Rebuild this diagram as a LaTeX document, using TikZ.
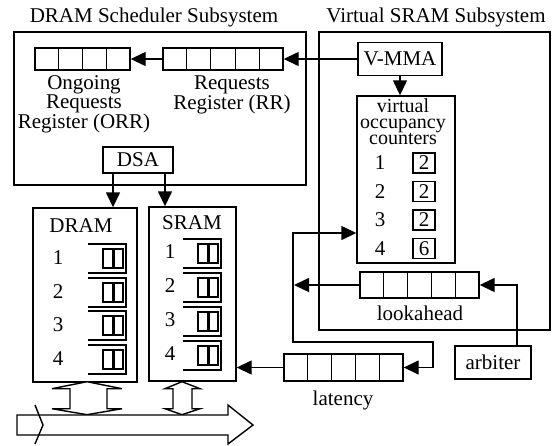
\documentclass[tikz,border=0pt]{standalone}
\usepackage{fontspec}
\setmainfont{Liberation Serif}
\usetikzlibrary{arrows.meta, positioning, calc}
\tikzset{every node/.style={font=\fontsize{21}{18}\selectfont}}
\tikzstyle{arrow} = [line width=1.4pt, -{Triangle[length=15pt,width=14pt]}]
\tikzstyle{twoway} = [line width=1.4pt, {Triangle[length=15pt,width=14pt]}-{Triangle[length=15pt,width=14pt]}]
\tikzstyle{box} = [rectangle, draw, line width=1.4pt, inner sep=0pt]
\tikzstyle{frame} = [rectangle, draw, line width=1.2pt]
\tikzstyle{reg} = [rectangle, draw, line width=1.4pt, minimum width=119pt, minimum height=26pt, inner sep=0pt]
\tikzstyle{lbl} = [inner sep=0pt, align=center]
\tikzstyle{hollow} = [line width=1.4pt, fill=white, line join=miter]
\tikzset{bank/.pic={
    \draw[line width=1.4pt] (0,0) -- (38,0) -- (38,29) -- (0,29);
    \draw[line width=1.2pt] (15,5) rectangle (25,24) (26,5) rectangle (35,24);
}}

\begin{document}
\begin{tikzpicture}[x=1pt, y=-1pt]
    \useasboundingbox (0,0) rectangle (552,445);

    % the two subsystems
    \node[lbl] (schedtitle) at (154,17) {DRAM Scheduler Subsystem};
    \node[lbl] (vsramtitle) at (436,17) {Virtual SRAM Subsystem};
    \node[frame, minimum width=292pt, minimum height=153pt] (sched) at (160,108.5) {};
    \node[frame, minimum width=231pt, minimum height=298pt] (vsram) at (434.5,181) {};

    % request registers
    \node[reg, minimum width=95pt, minimum height=22pt] (orr) at (82.5,59) {};
    \node[reg, minimum width=120pt, minimum height=22pt] (rr) at (223,59) {};
    \node[lbl] (orrlbl) at (84,104) {Ongoing\\Requests\\Register (ORR)};
    \node[lbl] (rrlbl) at (232,95) {Requests\\Register (RR)};
    \node[box, minimum width=70pt, minimum height=26pt] (dsa) at (138,160) {DSA};

    % virtual sram side
    \node[box, minimum width=84pt, minimum height=33pt] (vmma) at (400,59) {V-MMA};
    \node[box, minimum width=98pt, minimum height=167pt] (voc) at (406,179.5) {};
    \node[lbl, font=\fontsize{20}{15.5}\selectfont] (voctxt) at (403,122) {virtual\\occupancy\\counters};
    \foreach \n/\v/\y in {1/2/163, 2/2/191.5, 3/2/220, 4/6/248.5} {
        \node[lbl] (vid\n) at (380,\y) {\n};
        \node[box, line width=1.2pt, minimum width=22pt, minimum height=20pt] (vcnt\n) at (424,\y) {\v};
    }
    \node[reg] (look) at (419.5,285) {};
    \node[lbl] (looklbl) at (420,313) {lookahead};
    \node[box, minimum width=76pt, minimum height=33pt] (arb) at (493,362.5) {arbiter};
    \node[reg, minimum height=27pt] (lat) at (343.5,367.5) {};
    \node[lbl] (latlbl) at (343,400) {latency};

    % register cells
    \foreach \r/\k in {orr/4, rr/5, look/5, lat/5}
        \foreach \i in {1,...,4}
            \draw[line width=1.2pt] ($(\r.north west)!\i/\k!(\r.north east)$) -- ($(\r.south west)!\i/\k!(\r.south east)$);

    % memories with their banks
    \node[box, minimum width=104pt, minimum height=174pt] (dram) at (85,295) {};
    \node[lbl] (dramlbl) at (81,226) {DRAM};
    \node[box, minimum width=87pt, minimum height=174pt] (sram) at (192.5,294) {};
    \node[lbl] (sramlbl) at (192,223) {SRAM};
    \foreach \n/\y in {1/244, 2/278, 3/311, 4/345} {
        \node[lbl] (dbank\n) at (58,\y+14) {\n};
        \pic at (88,\y) {bank};
    }
    \foreach \n/\y in {1/239, 2/273, 3/307, 4/341} {
        \node[lbl] (sbank\n) at (170,\y+13) {\n};
        \pic at (183,\y) {bank};
    }

    % connections
    \coordinate (fbtop) at (293,233);
    \coordinate (fbbot) at (293,342);
    \coordinate (fbturn) at (433,342);
    \draw[arrow] (rr) -- (orr);
    \draw[arrow] (vmma) -- (rr);
    \draw[arrow] (vmma.south) -- (vmma.south |- voc.north);
    \draw[arrow] ([xshift=-25pt]dsa.south) -- ([xshift=-25pt]dsa.south |- dram.north);
    \draw[arrow] ([xshift=27pt]dsa.south) -- ([xshift=27pt]dsa.south |- sram.north);
    \draw[arrow] (look.west) -- ([xshift=1pt]look.west -| fbtop);
    \draw[twoway] (fbtop -| voc.west) -- (fbtop) -- (fbbot) -- (fbturn) |- (lat.east);
    \draw[arrow] ([xshift=24pt]arb.north) |- (look.east);
    \draw[arrow] (lat.west) -- (lat.west -| sram.east);

    % memory bus
    \begin{scope}[shift={(dram.south)}]
        \draw[hollow] (2,-1) -- (37,6) -- (22,6) -- (22,26) -- (37,26) -- (2,32)
            -- (-33,26) -- (-15,26) -- (-15,6) -- (-33,6) -- cycle;
    \end{scope}
    \begin{scope}[shift={(sram.south)}]
        \draw[hollow] (-10.5,0) -- (7.5,7) -- (-0.5,7) -- (-0.5,27) -- (7.5,27) -- (-10.5,33)
            -- (-27.5,27) -- (-19.5,27) -- (-19.5,7) -- (-27.5,7) -- cycle;
    \end{scope}
    \draw[hollow] (17,415) -- (228,415) -- (228,405) -- (253,425) -- (228,444)
        -- (228,435) -- (17,435) -- cycle;
    \draw[line width=1.4pt] (35,405) -- (43,425) -- (35,444);
\end{tikzpicture}
\end{document}
